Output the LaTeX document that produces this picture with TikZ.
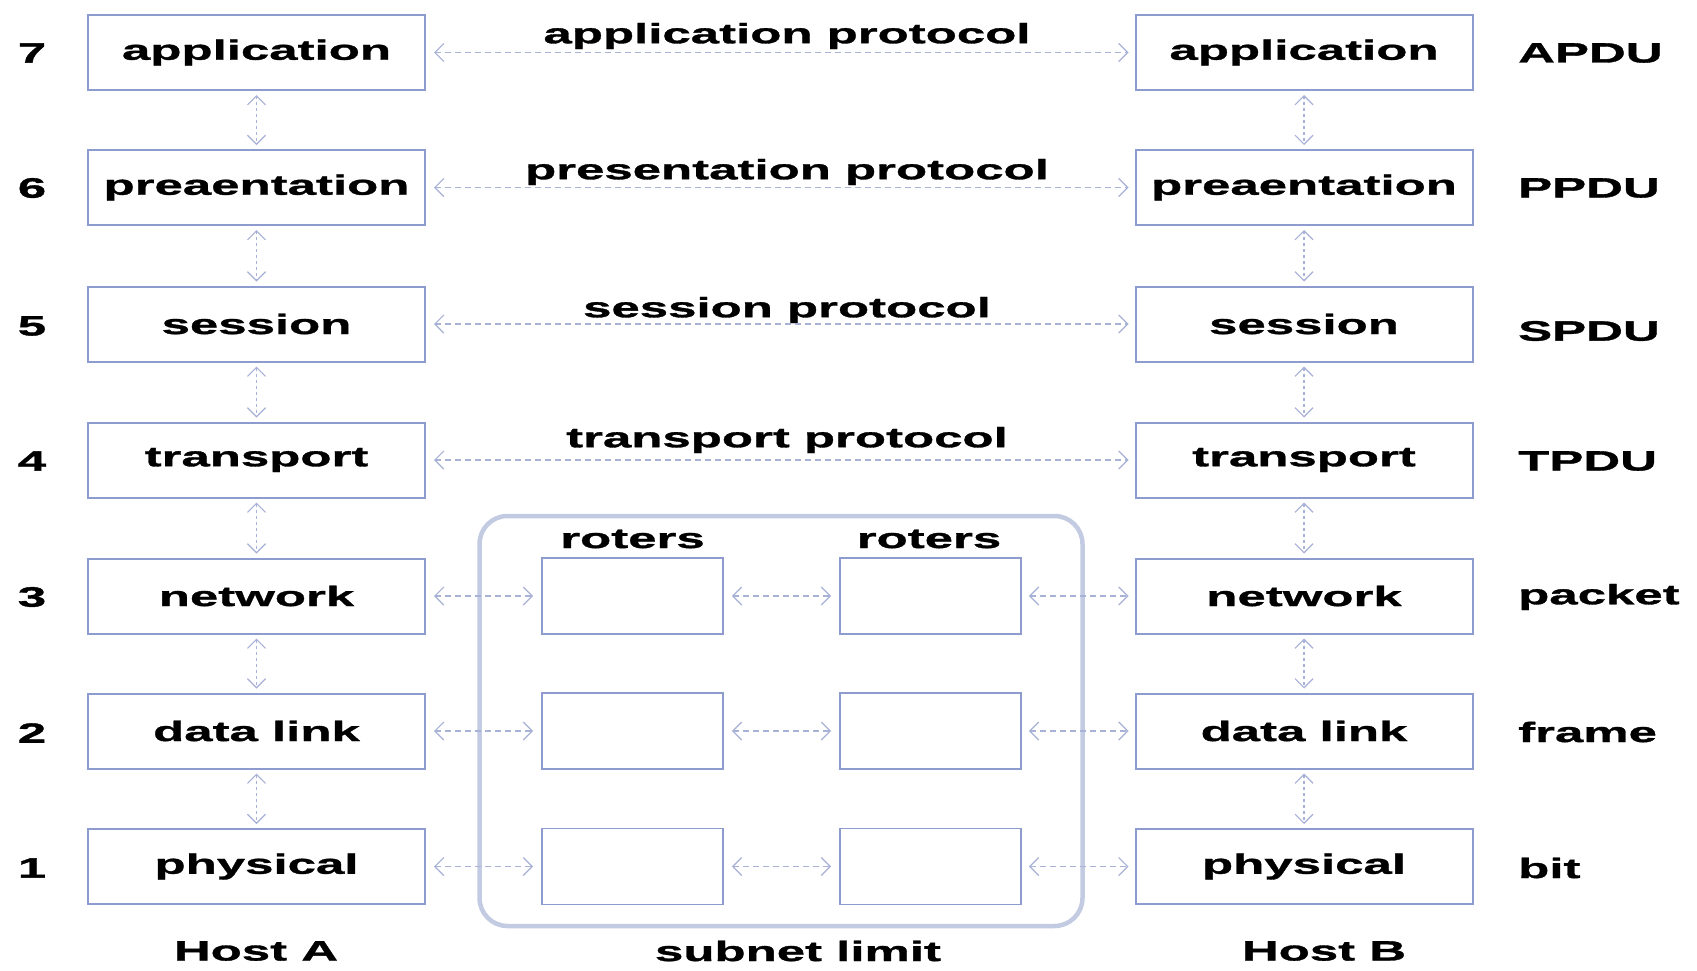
\documentclass[tikz,border=0pt]{standalone}
\usepackage{fontspec}
\usetikzlibrary{arrows.meta}
\newfontfamily\labfont[FakeStretch=1.82,FakeBold=1.2]{Liberation Sans}
\definecolor{boxc}{HTML}{8D9BCF}
\definecolor{arrc}{HTML}{A8B1D6}
\definecolor{subc}{HTML}{C3CBE3}
\tikzset{
  lbl/.style={font=\labfont\bfseries\fontsize{28}{30}\selectfont, inner sep=0pt, text=black},
  layer/.style={lbl, draw=boxc, line width=2pt, minimum width=337pt, minimum height=75pt},
  router/.style={draw=boxc, line width=1.8pt, minimum width=181pt, minimum height=76pt, inner sep=0pt},
  subnetbox/.style={draw=subc, line width=4.5pt, rounded corners=28pt, minimum width=603pt, minimum height=410pt, inner sep=0pt},
  barb/.tip={Straight Barb[length=9pt,width=18pt,line width=1.2pt]},
  biarrow/.style={draw=arrc, line width=1.2pt, dash pattern=on 6pt off 4pt, barb-barb},
  vbiarrow/.style={biarrow, dash pattern=on 3pt off 3pt}
}
\begin{document}
\begin{tikzpicture}[x=1pt,y=-1pt]
\useasboundingbox[fill=white] (0,0) rectangle (1697,970);

% subnet
\node[subnetbox] (subnet) at (781,721) {};

% host A layers
\node[layer] (a7) at (256.5,52.5) {application};
\node[layer] (a6) at (256.5,187.5) {preaentation};
\node[layer] (a5) at (256.5,324) {session};
\node[layer] (a4) at (256.5,460) {transport};
\node[layer] (a3) at (256.5,596) {network};
\node[layer] (a2) at (256.5,731) {data link};
\node[layer] (a1) at (256.5,866.5) {physical};

% host B layers
\node[layer] (b7) at (1304,52.5) {application};
\node[layer] (b6) at (1304,187.5) {preaentation};
\node[layer] (b5) at (1304,324) {session};
\node[layer] (b4) at (1304,460) {transport};
\node[layer] (b3) at (1304,596) {network};
\node[layer] (b2) at (1304,731) {data link};
\node[layer] (b1) at (1304,866.5) {physical};

% routers
\node[router] (r3) at (632.5,596) {};
\node[router] (r2) at (632.5,731) {};
\node[router] (r1) at (632.5,866.5) {};
\node[router] (s3) at (930.5,596) {};
\node[router] (s2) at (930.5,731) {};
\node[router] (s1) at (930.5,866.5) {};
\node[lbl] (rt1) at (632.5,539) {roters};
\node[lbl] (rt2) at (929,539) {roters};

% layer numbers
\node[lbl] (n7) at (32,53) {7};
\node[lbl] (n6) at (32,188) {6};
\node[lbl] (n5) at (32,326) {5};
\node[lbl] (n4) at (32,461) {4};
\node[lbl] (n3) at (32,597) {3};
\node[lbl] (n2) at (32,733) {2};
\node[lbl] (n1) at (32,868) {1};

% PDU names
\node[lbl, anchor=west] (p7) at (1518,53) {APDU};
\node[lbl, anchor=west] (p6) at (1518,188) {PPDU};
\node[lbl, anchor=west] (p5) at (1518,331) {SPDU};
\node[lbl, anchor=west] (p4) at (1518,461) {TPDU};
\node[lbl, anchor=west] (p3) at (1518,597) {packet};
\node[lbl, anchor=west] (p2) at (1518,732) {frame};
\node[lbl, anchor=west] (p1) at (1518,868) {bit};

% protocol labels
\node[lbl] (l7) at (787,36) {application protocol};
\node[lbl] (l6) at (787,172) {presentation protocol};
\node[lbl] (l5) at (787,310) {session protocol};
\node[lbl] (l4) at (787,440) {transport protocol};

% bottom labels
\node[lbl] (ha) at (256,951) {Host A};
\node[lbl] (sl) at (798,951) {subnet limit};
\node[lbl] (hb) at (1324,951) {Host B};

% peer arrows
\foreach \i in {7,6,5,4}{
  \draw[biarrow] ([xshift=8pt]a\i.east) -- ([xshift=-6pt]b\i.west);
}
\foreach \i in {3,2,1}{
  \draw[biarrow] ([xshift=8pt]a\i.east) -- ([xshift=-8pt]r\i.west);
  \draw[biarrow] ([xshift=8pt]r\i.east) -- ([xshift=-8pt]s\i.west);
  \draw[biarrow] ([xshift=7pt]s\i.east) -- ([xshift=-6pt]b\i.west);
}

% vertical arrows
\foreach \i/\j in {7/6,6/5,5/4,4/3,3/2,2/1}{
  \draw[vbiarrow] ([yshift=-4pt]a\i.south) -- ([yshift=4pt]a\j.north);
  \draw[vbiarrow] ([yshift=-4pt]b\i.south) -- ([yshift=4pt]b\j.north);
}
\end{tikzpicture}
\end{document}
